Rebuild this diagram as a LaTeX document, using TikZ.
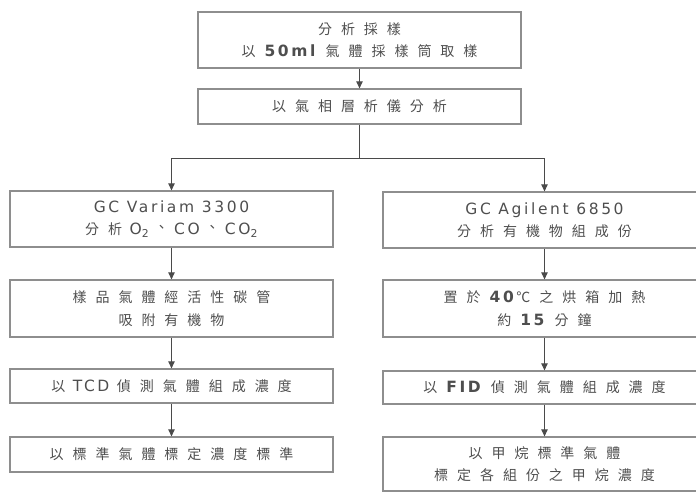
\documentclass[tikz,border=0pt]{standalone}
\usepackage{fontspec}
\setmainfont[LetterSpace=17]{DejaVu Sans}
\newfontfamily\cjk[LetterSpace=64]{Noto Sans CJK TC}
\newfontfamily\cjkplain{Noto Sans CJK TC}
\usetikzlibrary{arrows.meta}
\definecolor{boxline}{HTML}{8E8E8E}
\definecolor{conline}{HTML}{4A4A4A}
\definecolor{txt}{HTML}{4E4E4E}
\newcommand{\zh}[1]{{\fontsize{14pt}{22pt}\cjk #1}}
% centred enumeration comma between formulae
\newcommand{\dun}{\makebox[25pt][c]{\raisebox{2pt}{\fontsize{14pt}{22pt}\cjkplain 、}}}
\tikzset{
  stepbox/.style={draw=boxline, line width=1.3pt, minimum width=323pt,
    align=center, text=txt, inner sep=0pt,
    font=\fontsize{15.5pt}{22.5pt}\selectfont},
  arr/.style={draw=conline, line width=0.9pt,
    -{Triangle[length=7pt,width=6.5pt]}}
}
\begin{document}
\begin{tikzpicture}[x=1pt,y=-1pt]
  \useasboundingbox (0,0) rectangle (696,491);
  \clip (0,0) rectangle (696,491);

  % sampling and GC analysis
  \node[stepbox, minimum height=56pt] (sample) at (359.5,40)
    {\zh{分析採樣}\\\zh{以}\textbf{50ml} \zh{氣體採樣筒取樣}};
  \node[stepbox, minimum height=35pt] (gc) at (359.5,106.5)
    {\zh{以氣相層析儀分析}};

  % left branch: inorganic gases
  \node[stepbox, minimum height=56pt] (l1) at (171.5,219)
    {GC Variam 3300\\\zh{分析} O\textsubscript{2}\dun CO\dun CO\textsubscript{2}};
  \node[stepbox, minimum height=57pt] (l2) at (171.5,308.5)
    {\zh{樣品氣體經活性碳管}\\\zh{吸附有機物}};
  \node[stepbox, minimum height=34pt] (l3) at (171.5,386)
    {\zh{以} TCD \zh{偵測氣體組成濃度}};
  \node[stepbox, minimum height=35pt] (l4) at (171.5,454.5)
    {\zh{以標準氣體標定濃度標準}};

  % right branch: organic compounds
  \node[stepbox, minimum height=56pt] (r1) at (544.5,220)
    {GC Agilent 6850\\\zh{分析有機物組成份}};
  \node[stepbox, minimum height=57pt] (r2) at (544.5,308.5)
    {\zh{置於}\textbf{40}\zh{℃之烘箱加熱}\\\zh{約}\textbf{15} \zh{分鐘}};
  \node[stepbox, minimum height=33pt] (r3) at (544.5,387.5)
    {\zh{以}\textbf{FID} \zh{偵測氣體組成濃度}};
  \node[stepbox, minimum height=54pt] (r4) at (544.5,464)
    {\zh{以甲烷標準氣體}\\\zh{標定各組份之甲烷濃度}};

  % connectors
  \coordinate (split) at (gc.south |- 0,158);
  \draw[arr] (sample) -- (gc);
  \draw[draw=conline, line width=0.9pt] (gc.south) -- (split);
  \draw[arr] (split) -| (l1.north);
  \draw[arr] (split) -| (r1.north);
  \draw[arr] (l1) -- (l2);
  \draw[arr] (l2) -- (l3);
  \draw[arr] (l3) -- (l4);
  \draw[arr] (r1) -- (r2);
  \draw[arr] (r2) -- (r3);
  \draw[arr] (r3) -- (r4);
\end{tikzpicture}
\end{document}
